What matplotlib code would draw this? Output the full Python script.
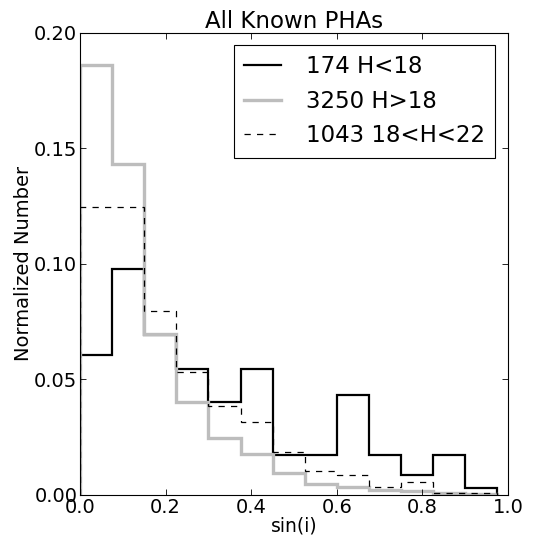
import numpy as np
import matplotlib
matplotlib.use("Agg")
import matplotlib.pyplot as plt

# bin edges in sin(i)
edges = [0.0, 0.075, 0.15, 0.225, 0.3, 0.375, 0.45, 0.525, 0.6,
         0.675, 0.75, 0.825, 0.9, 0.975]

# normalized numbers
bright = [0.0603, 0.0977, 0.0690, 0.0546, 0.0402, 0.0546, 0.0172,
          0.0172, 0.0431, 0.0172, 0.0086, 0.0172, 0.0029]
faint = [0.1858, 0.1431, 0.0694, 0.0402, 0.0244, 0.0175, 0.0095,
         0.0049, 0.0035, 0.0019, 0.0015, 0.0006, 0.0003]
mid = [0.1246, 0.1246, 0.0796, 0.0532, 0.0384, 0.0316, 0.0184,
       0.0105, 0.0084, 0.0034, 0.0055, 0.0007, 0.0007]

labels = ['174 H<18', '3250 H>18', '1043 18<H<22']

plt.rcParams['font.family'] = 'DejaVu Sans'
plt.rcParams['xtick.direction'] = 'in'
plt.rcParams['ytick.direction'] = 'in'
plt.rcParams['xtick.top'] = True
plt.rcParams['ytick.right'] = True

fig = plt.figure(figsize=(5.45, 5.42), dpi=100)
ax = fig.add_axes([0.147, 0.087, 0.785, 0.853])

ax.stairs(bright, edges, color='black', lw=1.6, label=labels[0])
ax.stairs(faint, edges, color='#bdbdbd', lw=2.4, label=labels[1])
ax.stairs(mid, edges, color='black', lw=0.9, ls=(0, (5, 5)), label=labels[2])

ax.set_xlim(0, 1.0)
ax.set_ylim(0, 0.20)
ax.set_xticks(np.arange(0, 1.01, 0.2))
ax.set_yticks(np.arange(0, 0.201, 0.05))
ax.xaxis.set_major_formatter(matplotlib.ticker.FormatStrFormatter('%.1f'))
ax.yaxis.set_major_formatter(matplotlib.ticker.FormatStrFormatter('%.2f'))
ax.tick_params(length=4, width=0.6, labelsize=14, pad=2)

ax.set_xlabel('sin(i)', fontsize=13.5, labelpad=0)
ax.set_ylabel('Normalized Number', fontsize=14, labelpad=1)
ax.set_title('All Known PHAs', fontsize=16.5, pad=3)

leg = ax.legend(loc='upper right', handlelength=1.6, fancybox=False,
                framealpha=1, edgecolor='black', borderaxespad=0.55,
                labelspacing=0.5, handletextpad=1.1, borderpad=0.45,
                fontsize=16.5)
leg.get_frame().set_linewidth(0.8)

fig.savefig('out.png', dpi=100)
